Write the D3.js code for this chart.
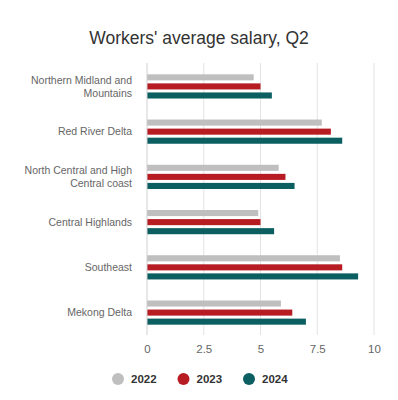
<!DOCTYPE html>
<html>
<head>
<meta charset="utf-8">
<script src="https://cdn.jsdelivr.net/npm/d3@7"></script>
<style>
  body { margin: 0; background: #fff; }
  svg { font-family: "Liberation Sans", Arial, sans-serif; }
</style>
</head>
<body>
<div id="chart"></div>
<script>
// data
const regions = ['Northern Midland and Mountains', 'Red River Delta', 'North Central and High Central coast', 'Central Highlands', 'Southeast', 'Mekong Delta'];
const regionLines = [['Northern Midland and', 'Mountains'], ['Red River Delta'], ['North Central and High', 'Central coast'], ['Central Highlands'], ['Southeast'], ['Mekong Delta']];
const years = ['2022', '2023', '2024'];
const salary2022 = [4.7, 7.7, 5.8, 4.9, 8.5, 5.9];
const salary2023 = [5.0, 8.1, 6.1, 5.0, 8.6, 6.4];
const salary2024 = [5.5, 8.6, 6.5, 5.6, 9.3, 7.0];
const xTicks = [0, 2.5, 5, 7.5, 10];
const colors = ['#bfbfbf', '#b71c23', '#0b5f60'];

const width = 398, height = 400;
const margin = {top: 63, right: 24, bottom: 65, left: 147};

const series = [salary2022, salary2023, salary2024];

const svg = d3.select('#chart').append('svg')
  .attr('width', width)
  .attr('height', height);

svg.append('text')
  .attr('x', width / 2)
  .attr('y', 44)
  .attr('text-anchor', 'middle')
  .attr('fill', '#333')
  .attr('font-size', '17.5px')
  .text("Workers' average salary, Q2");

const x = d3.scaleLinear().domain([0, 10]).range([margin.left, 374]);
const y = d3.scaleBand().domain(regions).range([margin.top + 1, height - margin.bottom]).paddingInner(0.465).paddingOuter(0.228);
const ySub = d3.scaleBand().domain(years).range([0, y.bandwidth()]).paddingInner(0.33);

// grid
svg.append('g')
  .selectAll('line')
  .data(xTicks.slice(1))
  .enter()
  .append('line')
  .attr('x1', d => x(d)).attr('x2', d => x(d))
  .attr('y1', margin.top).attr('y2', height - margin.bottom)
  .attr('stroke', '#e3e3e3')
  .attr('stroke-width', 1);

// bars
const groups = svg.append('g')
  .selectAll('g')
  .data(regions)
  .enter()
  .append('g')
  .attr('transform', d => 'translate(0,' + y(d) + ')');

groups.selectAll('rect')
  .data((d, i) => years.map((yr, k) => ({year: yr, value: series[k][i], k: k})))
  .enter()
  .append('rect')
  .attr('x', x(0))
  .attr('y', d => ySub(d.year))
  .attr('width', d => x(d.value) - x(0))
  .attr('height', ySub.bandwidth())
  .attr('fill', d => colors[d.k]);

// baseline
svg.append('line')
  .attr('x1', x(0)).attr('x2', x(0))
  .attr('y1', margin.top).attr('y2', height - margin.bottom)
  .attr('stroke', '#d0d0d0');

// x axis labels
const xAxis = svg.append('g')
  .attr('transform', 'translate(0,' + (height - margin.bottom) + ')')
  .call(d3.axisBottom(x).tickValues(xTicks).tickSize(0).tickPadding(10).tickFormat(d3.format('')));
xAxis.select('.domain').remove();
xAxis.selectAll('text').attr('fill', '#666').attr('font-size', '11.5px').attr('font-family', '"Liberation Sans", Arial, sans-serif');

// y axis labels (wrapped)
const yLabels = svg.append('g')
  .selectAll('text')
  .data(regions)
  .enter()
  .append('text')
  .attr('text-anchor', 'end')
  .attr('fill', '#666')
  .attr('font-size', '10.5px')
  .attr('transform', d => 'translate(132,' + (y(d) + y.bandwidth() / 2) + ')');

yLabels.each(function(d, i) {
  const lines = regionLines[i];
  const t = d3.select(this);
  lines.forEach((ln, j) => {
    t.append('tspan')
      .attr('x', 0)
      .attr('y', (j - (lines.length - 1) / 2) * 13)
      .attr('dy', '0.35em')
      .text(ln);
  });
});

// legend
const legend = svg.append('g')
  .selectAll('g')
  .data(years)
  .enter()
  .append('g')
  .attr('transform', (d, i) => 'translate(' + (118 + i * 65.5) + ',379)');

legend.append('circle')
  .attr('r', 6)
  .attr('fill', (d, i) => colors[i]);

legend.append('text')
  .attr('x', 13)
  .attr('dy', '0.36em')
  .attr('fill', '#333')
  .attr('font-weight', 'bold')
  .attr('font-size', '11.5px')
  .text(d => d);
</script>
</body>
</html>
